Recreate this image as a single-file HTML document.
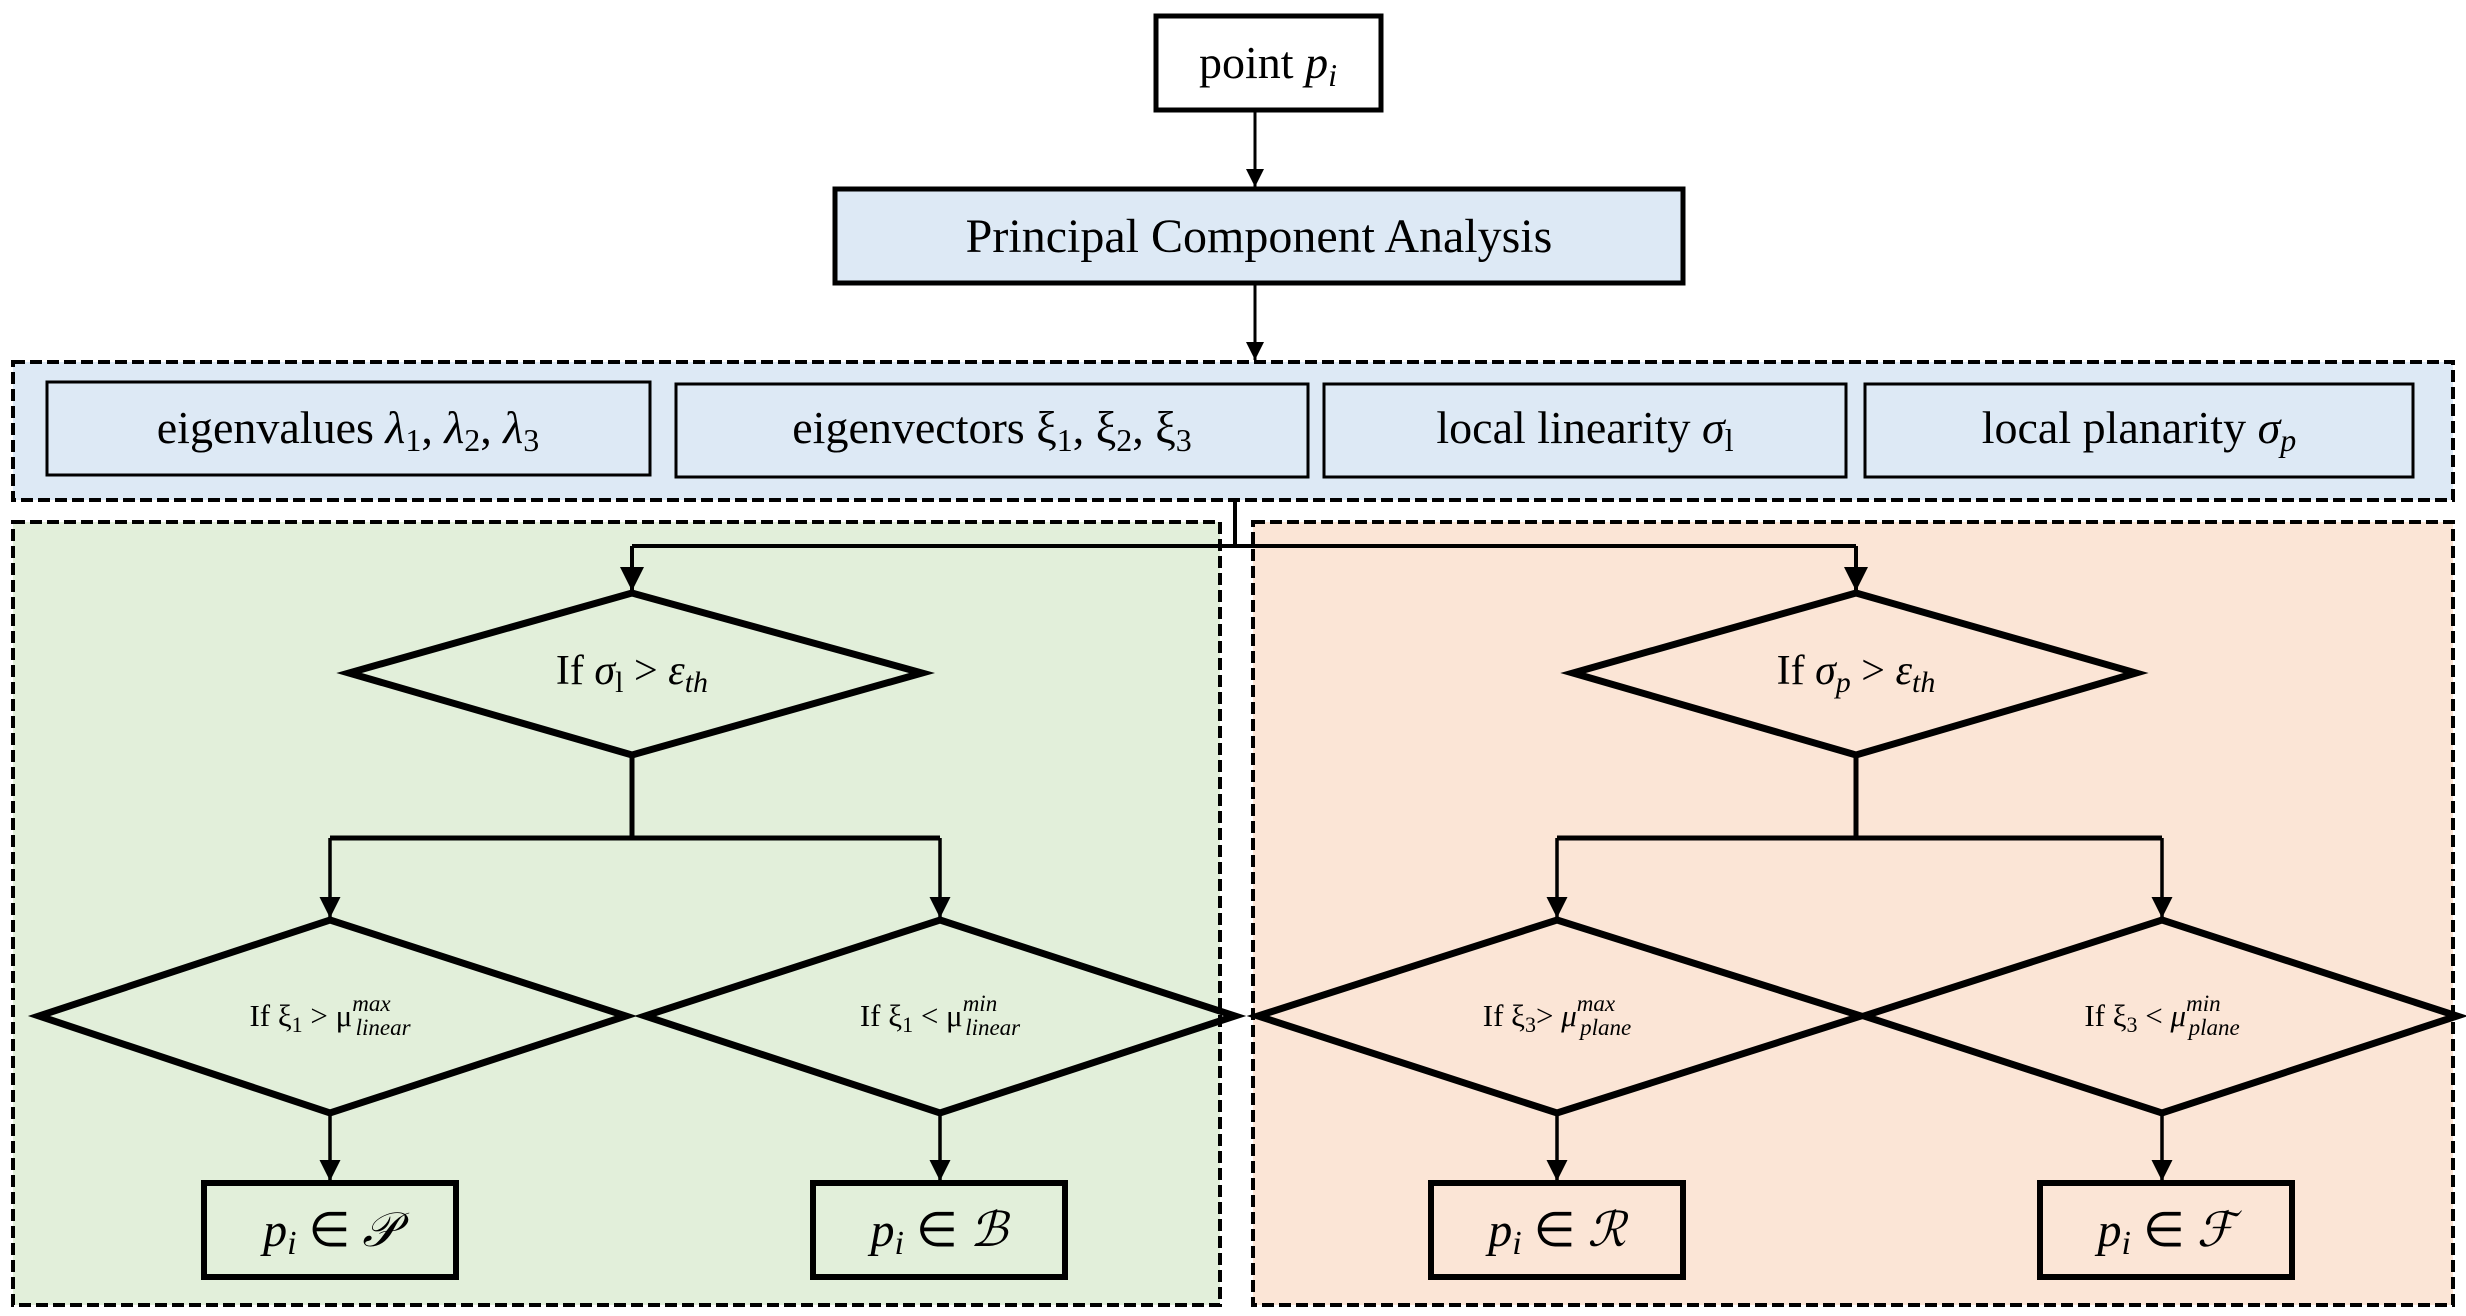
<!DOCTYPE html>
<html><head><meta charset="utf-8"><style>
html,body{margin:0;padding:0;background:#fff}
svg{display:block}
text{font-family:"Liberation Serif",serif;fill:#000}
.it{font-style:italic}
</style></head><body>
<svg width="2466" height="1316" viewBox="0 0 2466 1316" xmlns="http://www.w3.org/2000/svg">
<defs>
<marker id="a" viewBox="0 0 10 10" refX="10" refY="5" markerWidth="6" markerHeight="8" orient="auto" markerUnits="strokeWidth"><path d="M0,0 L10,5 L0,10 z" fill="#000"/></marker>
</defs>
<rect x="13" y="362" width="2440" height="138" fill="#dde9f5" stroke="#000" stroke-width="4" stroke-dasharray="12,5"/>
<rect x="13" y="522" width="1207" height="783" fill="#e2efda" stroke="#000" stroke-width="4" stroke-dasharray="12,5"/>
<rect x="1253" y="522" width="1200" height="783" fill="#fbe5d6" stroke="#000" stroke-width="4" stroke-dasharray="12,5"/>

<rect x="1156" y="16" width="225" height="94" fill="#fff" stroke="#000" stroke-width="5"/>
<text x="1268" y="78" font-size="46" text-anchor="middle">point <tspan class="it">p</tspan><tspan class="it" font-size="32" dy="8">i</tspan></text>
<line x1="1255" y1="110" x2="1255" y2="187" stroke="#000" stroke-width="3" marker-end="url(#a)"/>
<rect x="835" y="189" width="848" height="94" fill="#dde9f5" stroke="#000" stroke-width="5"/>
<text x="1259" y="252" font-size="48" text-anchor="middle">Principal Component Analysis</text>
<line x1="1255" y1="283" x2="1255" y2="360" stroke="#000" stroke-width="3" marker-end="url(#a)"/>

<g fill="#dde9f5" stroke="#000" stroke-width="3">
<rect x="47" y="382" width="603" height="93"/>
<rect x="676" y="384" width="632" height="93"/>
<rect x="1324" y="384" width="522" height="93"/>
<rect x="1865" y="384" width="548" height="93"/>
</g>
<text x="348" y="443" font-size="46" text-anchor="middle">eigenvalues <tspan class="it">λ</tspan><tspan font-size="32" dy="8">1</tspan><tspan dy="-8">, </tspan><tspan class="it">λ</tspan><tspan font-size="32" dy="8">2</tspan><tspan dy="-8">, </tspan><tspan class="it">λ</tspan><tspan font-size="32" dy="8">3</tspan></text>
<text x="992" y="443" font-size="46" text-anchor="middle">eigenvectors ξ<tspan font-size="32" dy="8">1</tspan><tspan dy="-8">, ξ</tspan><tspan font-size="32" dy="8">2</tspan><tspan dy="-8">, ξ</tspan><tspan font-size="32" dy="8">3</tspan></text>
<text x="1585" y="443" font-size="46" text-anchor="middle">local linearity <tspan class="it">σ</tspan><tspan font-size="32" dy="8">l</tspan></text>
<text x="2139" y="443" font-size="46" text-anchor="middle">local planarity <tspan class="it">σ</tspan><tspan class="it" font-size="32" dy="8">p</tspan></text>

<g stroke="#000" stroke-width="4" fill="none">
<polyline points="1235,500 1235,546"/>
<polyline points="632,546 1856,546"/>
</g>
<line x1="632" y1="546" x2="632" y2="591" stroke="#000" stroke-width="4" marker-end="url(#a)"/>
<line x1="1856" y1="546" x2="1856" y2="591" stroke="#000" stroke-width="4" marker-end="url(#a)"/>

<g stroke="#000" stroke-width="7" fill="none" stroke-linejoin="miter">
<polygon points="632,593 922,673 632,755 349,673"/>
<polygon points="1856,593 2136,673 1856,755 1573,673"/>
<polygon points="330,920 626,1016 330,1113 39,1016"/>
<polygon points="940,920 1235,1016 940,1113 645,1016"/>
<polygon points="1557,920 1861,1016 1557,1113 1258,1016"/>
<polygon points="2162,920 2457,1016 2162,1113 1864,1016"/>
</g>
<text x="632" y="684" font-size="42" text-anchor="middle">If <tspan class="it">σ</tspan><tspan font-size="30" dy="8">l</tspan><tspan dy="-8"> &gt; </tspan><tspan class="it">ε</tspan><tspan class="it" font-size="30" dy="8">th</tspan></text>
<text x="1856" y="684" font-size="42" text-anchor="middle">If <tspan class="it">σ</tspan><tspan class="it" font-size="30" dy="8">p</tspan><tspan dy="-8"> &gt; </tspan><tspan class="it">ε</tspan><tspan class="it" font-size="30" dy="8">th</tspan></text>

<g stroke="#000" stroke-width="5" fill="none">
<line x1="632" y1="755" x2="632" y2="838"/>
<line x1="330" y1="838" x2="940" y2="838"/>
<line x1="1856" y1="755" x2="1856" y2="838"/>
<line x1="1557" y1="838" x2="2162" y2="838"/>
</g>
<g stroke="#000" stroke-width="3.5">
<line x1="330" y1="838" x2="330" y2="918" marker-end="url(#a)"/>
<line x1="940" y1="838" x2="940" y2="918" marker-end="url(#a)"/>
<line x1="1557" y1="838" x2="1557" y2="918" marker-end="url(#a)"/>
<line x1="2162" y1="838" x2="2162" y2="918" marker-end="url(#a)"/>
<line x1="330" y1="1113" x2="330" y2="1181" marker-end="url(#a)"/>
<line x1="940" y1="1113" x2="940" y2="1181" marker-end="url(#a)"/>
<line x1="1557" y1="1113" x2="1557" y2="1181" marker-end="url(#a)"/>
<line x1="2162" y1="1113" x2="2162" y2="1181" marker-end="url(#a)"/>
</g>

<text x="330" y="1026" font-size="31" text-anchor="middle">If ξ<tspan font-size="22" dy="6">1</tspan><tspan dy="-6"> &gt; μ</tspan><tspan class="it" font-size="23" dy="-15">max</tspan><tspan class="it" font-size="23" dx="-35" dy="24">linear</tspan></text>
<text x="940" y="1026" font-size="31" text-anchor="middle">If ξ<tspan font-size="22" dy="6">1</tspan><tspan dy="-6"> &lt; μ</tspan><tspan class="it" font-size="23" dy="-15">min</tspan><tspan class="it" font-size="23" dx="-32" dy="24">linear</tspan></text>
<text x="1557" y="1026" font-size="31" text-anchor="middle">If ξ<tspan font-size="22" dy="6">3</tspan><tspan dy="-6">&gt; </tspan><tspan class="it">μ</tspan><tspan class="it" font-size="23" dy="-15">max</tspan><tspan class="it" font-size="23" dx="-35" dy="24">plane</tspan></text>
<text x="2162" y="1026" font-size="31" text-anchor="middle">If ξ<tspan font-size="22" dy="6">3</tspan><tspan dy="-6"> &lt; </tspan><tspan class="it">μ</tspan><tspan class="it" font-size="23" dy="-15">min</tspan><tspan class="it" font-size="23" dx="-32" dy="24">plane</tspan></text>

<g fill="none" stroke="#000" stroke-width="6">
<rect x="204" y="1183" width="252" height="94"/>
<rect x="813" y="1183" width="252" height="94"/>
<rect x="1431" y="1183" width="252" height="94"/>
<rect x="2040" y="1183" width="252" height="94"/>
</g>
<g font-size="48" text-anchor="middle">
<text x="330" y="1246"><tspan class="it">p</tspan><tspan class="it" font-size="34" dy="8">i</tspan><tspan dy="-8"> ∈ </tspan><tspan class="it">𝒫</tspan></text>
<text x="939" y="1246"><tspan class="it">p</tspan><tspan class="it" font-size="34" dy="8">i</tspan><tspan dy="-8"> ∈ </tspan><tspan class="it">ℬ</tspan></text>
<text x="1557" y="1246"><tspan class="it">p</tspan><tspan class="it" font-size="34" dy="8">i</tspan><tspan dy="-8"> ∈ </tspan><tspan class="it">ℛ</tspan></text>
<text x="2166" y="1246"><tspan class="it">p</tspan><tspan class="it" font-size="34" dy="8">i</tspan><tspan dy="-8"> ∈ </tspan><tspan class="it">ℱ</tspan></text>
</g>
</svg>
</body></html>
